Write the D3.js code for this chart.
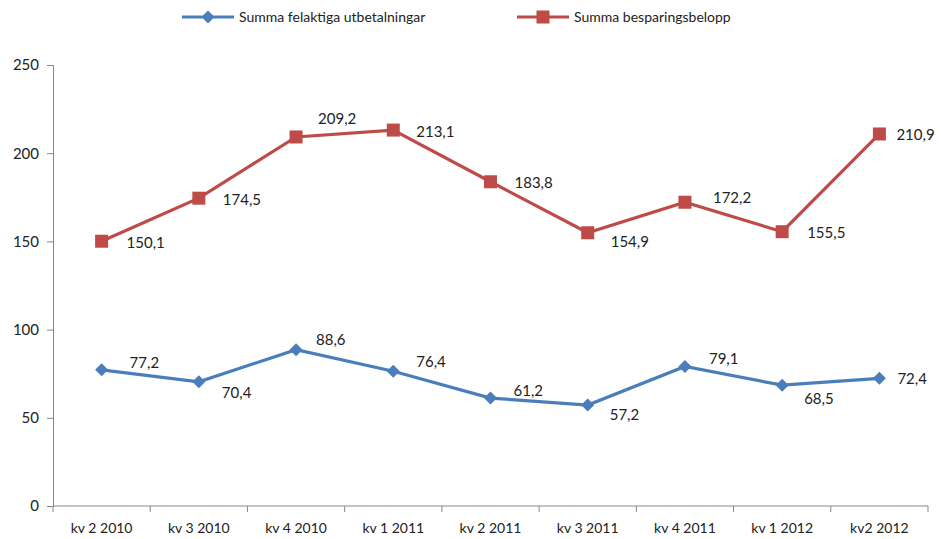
<!DOCTYPE html>
<html>
<head>
<meta charset="utf-8">
<script src="https://cdn.jsdelivr.net/npm/d3@7"></script>
<style>
  body { margin: 0; background: #fff; }
  text { font-family: Lato, "Open Sans", sans-serif; fill: #222; }
</style>
</head>
<body>
<div id="chart-area"></div>
<script>
// kvartal
let categories = ["kv 2 2010", "kv 3 2010", "kv 4 2010", "kv 1 2011", "kv 2 2011",
                  "kv 3 2011", "kv 4 2011", "kv 1 2012", "kv2 2012"];
let felaktiga = [77.2, 70.4, 88.6, 76.4, 61.2, 57.2, 79.1, 68.5, 72.4];
let besparing = [150.1, 174.5, 209.2, 213.1, 183.8, 154.9, 172.2, 155.5, 210.9];
let yTicks = [0, 50, 100, 150, 200, 250];

// label nudges, like excel's hand-moved labels
let blueDx = [28, 23, 20, 23, 23, 22, 24, 22, 18];
let blueDy = [-7, 11, -10, -9, -7, 10, -8, 14, 0];
let redDx = [25, 24, 22, 23, 24, 23, 28, 25, 17];
let redDy = [2, 2, -18, 2, 1, 9, -4, 1, 1];

let blue = "#4A7EBB", red = "#BE4B48", axisCol = "#868686";

let svg = d3.select('#chart-area')
            .append('svg')
            .attr("width", 941)
            .attr("height", 539);

let x = d3.scaleBand()
        .domain(categories)
        .range([53, 928]);
let y = d3.scaleLinear()
        .domain([0, 250])
        .range([506, 65]);

let fmt = function(v){ return d3.format(".1f")(v).replace(".", ","); };

// markers: square for red, square turned 45deg for blue (excel diamond)
function marker(sel, kind, color){
    if (kind === "square") {
        sel.append("rect")
            .attr("x", -6.5).attr("y", -6.5)
            .attr("width", 13).attr("height", 13)
            .attr("fill", color);
    } else {
        sel.append("rect")
            .attr("x", -4.6).attr("y", -4.6)
            .attr("width", 9.2).attr("height", 9.2)
            .attr("transform", "rotate(45)")
            .attr("fill", color);
    }
}

// y axis
let yAxis = svg.append("g")
    .attr("transform", "translate(53,0)")
    .call(d3.axisLeft(y).tickValues(yTicks).tickSize(6).tickPadding(8));
yAxis.select(".domain").attr("stroke", axisCol);
yAxis.selectAll(".tick line").attr("stroke", axisCol);
yAxis.selectAll("text").style("font-size", "15px").attr("fill", "#222");

// x axis
let xAxis = svg.append("g")
    .attr("transform", "translate(0,506)")
    .call(d3.axisBottom(x).tickSize(0).tickPadding(17));
xAxis.select(".domain").attr("stroke", axisCol).attr("d", "M53,0H928");
xAxis.selectAll("text").style("font-size", "14px").attr("fill", "#222");
xAxis.selectAll(".bound")
    .data(categories.concat(["end"]))
    .enter()
    .append("line")
    .attr("x1", function(d, i){ return i < categories.length ? x(d) : x.range()[1]; })
    .attr("x2", function(d, i){ return i < categories.length ? x(d) : x.range()[1]; })
    .attr("y1", 0)
    .attr("y2", 6)
    .attr("stroke", axisCol);

let cx = function(d, i){ return x(categories[i]) + x.bandwidth() / 2; };
let line = d3.line()
    .x(cx)
    .y(function(d){ return y(d); });

function drawSeries(values, color, kind, dx, dy){
    svg.append("path")
        .datum(values)
        .attr("d", line)
        .attr("fill", "none")
        .attr("stroke", color)
        .attr("stroke-width", 3.2);
    svg.selectAll(null)
        .data(values)
        .enter()
        .append("g")
        .attr("transform", function(d, i){ return "translate(" + cx(d, i) + "," + y(d) + ")"; })
        .each(function(){ marker(d3.select(this), kind, color); });
    svg.selectAll(null)
        .data(values)
        .enter()
        .append("text")
        .attr("x", function(d, i){ return cx(d, i) + dx[i]; })
        .attr("y", function(d, i){ return y(d) + dy[i]; })
        .attr("dy", "0.35em")
        .style("font-size", "15px")
        .text(fmt);
}

drawSeries(besparing, red, "square", redDx, redDy);
drawSeries(felaktiga, blue, "diamond", blueDx, blueDy);

// legend
let legend = [
    {name: "Summa felaktiga utbetalningar", color: blue, kind: "diamond", x: 182},
    {name: "Summa besparingsbelopp", color: red, kind: "square", x: 517}
];
let lg = svg.selectAll(".legend")
    .data(legend)
    .enter()
    .append("g")
    .attr("class", "legend")
    .attr("transform", function(d){ return "translate(" + d.x + ",17)"; });
lg.append("line")
    .attr("x1", 0).attr("x2", 52)
    .attr("y1", 0).attr("y2", 0)
    .attr("stroke", function(d){ return d.color; })
    .attr("stroke-width", 3.2);
lg.append("g")
    .attr("transform", "translate(26,0)")
    .each(function(d){ marker(d3.select(this), d.kind, d.color); });
lg.append("text")
    .attr("x", 57)
    .attr("y", 0)
    .attr("dy", "0.35em")
    .style("font-size", "14px")
    .text(function(d){ return d.name; });
</script>
</body>
</html>
